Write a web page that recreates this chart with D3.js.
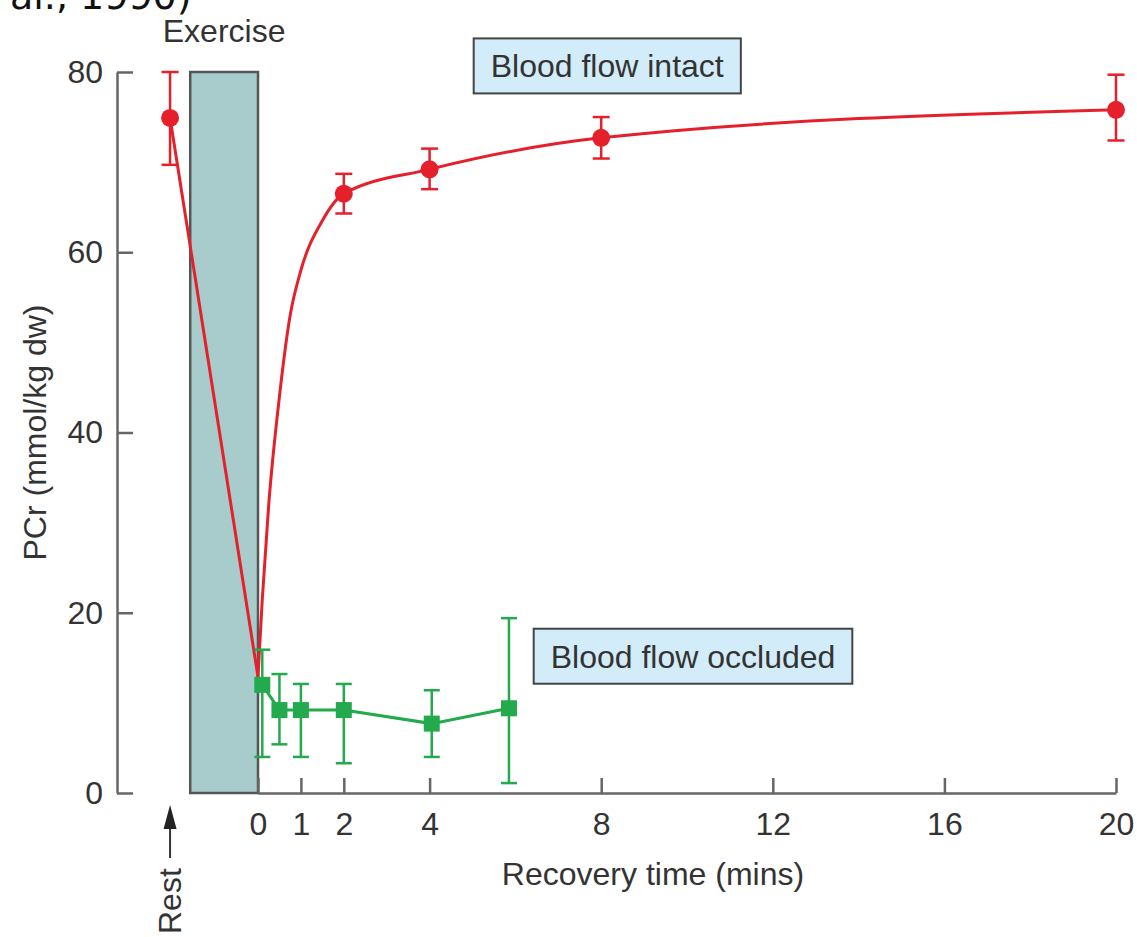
<!DOCTYPE html>
<html>
<head>
<meta charset="utf-8">
<script src="https://cdn.jsdelivr.net/npm/d3@7"></script>
<style>
body { margin: 0; background: #fff; }
text { font-family: "Liberation Sans", Arial, sans-serif; fill: #333; }
</style>
</head>
<body>
<div id="chart"></div>
<script>

// ---- data ----
var restTime = -2.05
var exerciseStart = -1.58
var exerciseEnd = 0

// blood flow intact (red), first point is the rest value
var intactTime  = [restTime, 2, 4, 8, 20]
var intactValue = [74.9, 66.5, 69.2, 72.7, 75.8]
var intactHi    = [80.0, 68.7, 71.5, 75.0, 79.7]
var intactLo    = [69.7, 64.3, 67.0, 70.4, 72.4]

// fitted recovery curve as drawn in the figure
var fitTime  = [0, 0.1, 0.25, 0.5, 0.75, 1, 1.5, 2, 4, 8, 20]
var fitValue = [12.9, 21.5, 32, 44, 53, 58, 63.5, 66.5, 69.2, 72.7, 75.8]

// blood flow occluded (green)
var occTime  = [0.1, 0.5, 1, 2, 4.05, 5.85]
var occValue = [12.0, 9.2, 9.2, 9.2, 7.7, 9.4]
var occHi    = [15.9, 13.2, 12.1, 12.1, 11.4, 19.4]
var occLo    = [4.0, 5.4, 4.0, 3.3, 4.0, 1.1]

var xTicks = [0, 1, 2, 4, 8, 12, 16, 20]
var yTicks = [0, 20, 40, 60, 80]

// ---- chart ----
var W = 1137, H = 937
var red = "#e5202b", green = "#22aa4c", axisColor = "#666"
var fs = "32px"

var x = d3.scaleLinear().domain([0, 20]).range([258, 1116])
var y = d3.scaleLinear().domain([0, 80]).range([793, 72])

var svg = d3.select("#chart").append("svg")
    .attr("width", W)
    .attr("height", H)

// caption fragment cut off at the top of the picture
svg.append("text")
    .attr("x", 10)
    .attr("y", 9)
    .style("font-family", "DejaVu Sans")
    .style("font-size", "38px")
    .style("fill", "#111")
    .text("al., 1990)")

// exercise bar
svg.append("rect")
    .attr("x", x(exerciseStart))
    .attr("y", y(80))
    .attr("width", x(exerciseEnd) - x(exerciseStart))
    .attr("height", y(0) - y(80))
    .attr("fill", "#a7cccb")
    .attr("stroke", "#555")
    .attr("stroke-width", 2.5)

svg.append("text")
    .attr("x", (x(exerciseStart) + x(exerciseEnd)) / 2)
    .attr("y", 42)
    .attr("text-anchor", "middle")
    .style("font-size", fs)
    .text("Exercise")

// axes
var yAxis = svg.append("g")
    .attr("transform", "translate(117,0)")
    .call(d3.axisLeft(y).tickValues(yTicks).tickSizeInner(-16).tickSizeOuter(0).tickPadding(14))
var xAxis = svg.append("g")
    .attr("transform", "translate(0," + y(0) + ")")
    .call(d3.axisBottom(x).tickValues(xTicks).tickSizeInner(-15).tickSizeOuter(0).tickPadding(19))

;[xAxis, yAxis].forEach(function(g) {
  g.attr("font-family", null).attr("font-size", null).style("color", axisColor)
  g.selectAll("path, line").attr("stroke-width", 2.5)
  g.selectAll("text").style("font-size", fs).style("fill", "#333")
})

svg.append("text")
    .attr("x", 653)
    .attr("y", 885)
    .attr("text-anchor", "middle")
    .style("font-size", fs)
    .text("Recovery time (mins)")

svg.append("text")
    .attr("transform", "translate(46," + y(40) + ") rotate(-90)")
    .attr("text-anchor", "middle")
    .style("font-size", fs)
    .text("PCr (mmol/kg dw)")

// rest marker
var rx = x(restTime)
svg.append("line")
    .attr("x1", rx).attr("x2", rx)
    .attr("y1", 858).attr("y2", 822)
    .attr("stroke", "#333").attr("stroke-width", 2)
svg.append("path")
    .attr("d", d3.line()([[rx, 805], [rx - 6.5, 829], [rx + 6.5, 829]]) + "Z")
    .attr("fill", "#222")
svg.append("text")
    .attr("transform", "translate(" + (rx + 11) + ",934) rotate(-90)")
    .attr("text-anchor", "start")
    .style("font-size", fs)
    .text("Rest")

// red: straight drop from rest to end of exercise, then recovery curve
svg.append("path")
    .attr("d", d3.line()([[x(restTime), y(intactValue[0])], [x(fitTime[0]), y(fitValue[0])]]))
    .attr("fill", "none")
    .attr("stroke", red)
    .attr("stroke-width", 3)

var fitLine = d3.line()
    .x(function(d, i) { return x(fitTime[i]) })
    .y(function(d) { return y(d) })
    .curve(d3.curveMonotoneX)
svg.append("path")
    .attr("d", fitLine(fitValue))
    .attr("fill", "none")
    .attr("stroke", red)
    .attr("stroke-width", 3)

// green line
var occLine = d3.line()
    .x(function(d, i) { return x(occTime[i]) })
    .y(function(d) { return y(d) })
svg.append("path")
    .attr("d", occLine(occValue))
    .attr("fill", "none")
    .attr("stroke", green)
    .attr("stroke-width", 3)

// error bars
function errorBars(times, hi, lo, color, cap) {
  var g = svg.append("g").attr("stroke", color).attr("stroke-width", 2.5)
  times.forEach(function(t, i) {
    var cx = x(t)
    g.append("line").attr("x1", cx).attr("x2", cx).attr("y1", y(hi[i])).attr("y2", y(lo[i]))
    g.append("line").attr("x1", cx - cap).attr("x2", cx + cap).attr("y1", y(hi[i])).attr("y2", y(hi[i]))
    g.append("line").attr("x1", cx - cap).attr("x2", cx + cap).attr("y1", y(lo[i])).attr("y2", y(lo[i]))
  })
}
errorBars(occTime, occHi, occLo, green, 8)
errorBars(intactTime, intactHi, intactLo, red, 8.5)

// markers
svg.selectAll(".occ")
    .data(occValue)
    .enter().append("rect")
    .attr("class", "occ")
    .attr("x", function(d, i) { return x(occTime[i]) - 8 })
    .attr("y", function(d) { return y(d) - 8 })
    .attr("width", 16)
    .attr("height", 16)
    .attr("fill", green)

svg.selectAll(".intact")
    .data(intactValue)
    .enter().append("circle")
    .attr("class", "intact")
    .attr("cx", function(d, i) { return x(intactTime[i]) })
    .attr("cy", function(d) { return y(d) })
    .attr("r", 9)
    .attr("fill", red)

// label boxes
function labelBox(label, cx, baseline) {
  var g = svg.append("g")
  var rect = g.append("rect")
  var t = g.append("text")
      .attr("x", cx)
      .attr("y", baseline)
      .attr("text-anchor", "middle")
      .style("font-size", fs)
      .text(label)
  var b = t.node().getBBox()
  rect.attr("x", b.x - 17)
      .attr("y", baseline - 39)
      .attr("width", b.width + 34)
      .attr("height", 55)
      .attr("fill", "#d3ecf9")
      .attr("stroke", "#444")
      .attr("stroke-width", 2)
}
labelBox("Blood flow intact", x(8.14), y(79.4))
labelBox("Blood flow occluded", x(10.14), y(13.9))

</script>
</body>
</html>
